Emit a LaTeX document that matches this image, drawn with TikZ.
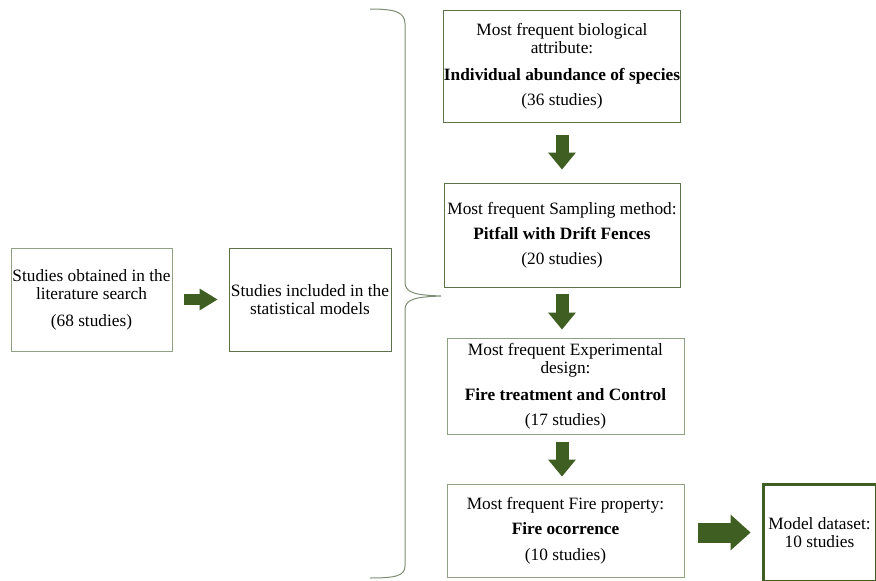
\documentclass[tikz,border=0pt]{standalone}
\usepackage{fontspec}
\setmainfont{Liberation Serif}
\usetikzlibrary{arrows.meta,calc}
\definecolor{boxdark}{HTML}{5E7249}
\definecolor{boxlight}{HTML}{8FA083}
\definecolor{arrowgreen}{HTML}{3F5F22}
\definecolor{bracegray}{HTML}{7E8C74}
\tikzset{
  box/.style={draw=boxdark, line width=1pt, align=center, inner sep=0pt,
    font=\fontsize{17.3}{18.5}\selectfont},
  lbox/.style={box, draw=boxlight},
}
\begin{document}
\begin{tikzpicture}[x=1pt,y=-1pt]
\useasboundingbox (0,0) rectangle (876,581);
\node[lbox, minimum width=161pt, minimum height=103pt] (b1) at (91.5,299.5)
  {Studies obtained in the\\literature search\\[8pt](68 studies)};
\node[box, minimum width=162pt, minimum height=103pt] (b2) at (310,299.5)
  {Studies included in the\\statistical models};
\node[box, minimum width=236pt, minimum height=112pt] (ba) at (562,66)
  {Most frequent biological\\attribute:\\[8pt]\textbf{Individual abundance of species}\\[7pt](36 studies)};
\node[box, minimum width=236pt, minimum height=104pt] (bb) at (562,235)
  {Most frequent Sampling method:\\[6.5pt]\textbf{Pitfall with Drift Fences}\\[7pt](20 studies)};
\node[lbox, minimum width=237pt, minimum height=96pt] (bc) at (565.5,386)
  {Most frequent Experimental\\design:\\[8pt]\textbf{Fire treatment and Control}\\[7pt](17 studies)};
\node[lbox, minimum width=237pt, minimum height=93pt] (bd) at (565.5,530.5)
  {Most frequent Fire property:\\[7pt]\textbf{Fire ocorrence}\\[7pt](10 studies)};
\node[box, draw=arrowgreen, line width=3pt, minimum width=113pt, minimum height=97pt] (be) at (819.5,532.5)
  {Model dataset:\\10 studies};
% block arrows
\draw[arrowgreen, line width=11pt, -{Triangle[length=18pt,width=22pt,line width=0pt]}, shorten <=11pt, shorten >=11pt] (b1.east) -- (b2.west);
\draw[arrowgreen, line width=13pt, -{Triangle[length=17pt,width=28pt,line width=0pt]}, shorten <=12pt, shorten >=13pt] (ba.south) -- (bb.north);
\draw[arrowgreen, line width=13pt, -{Triangle[length=17pt,width=28pt,line width=0pt]}, shorten <=6pt, shorten >=8pt] (bb.south) -- (bb.south |- bc.north);
\draw[arrowgreen, line width=13pt, -{Triangle[length=17pt,width=28pt,line width=0pt]}, shorten <=7pt, shorten >=7pt] (bc.south -| bb.south) -- (bb.south |- bd.north);
\draw[arrowgreen, line width=20pt, -{Triangle[length=20pt,width=36pt,line width=0pt]}, shorten <=13pt, shorten >=11pt] (bd.east |- be.west) -- (be.west);
% brace
\draw[bracegray, line width=1pt] (370,9) .. controls (395,9) and (405,12) .. (405,24)
  -- (405,282) .. controls (405,293) and (415,295) .. (441,296)
  .. controls (415,297) and (405,299) .. (405,310)
  -- (405,566) .. controls (405,576) and (395,578) .. (370,578);
\end{tikzpicture}
\end{document}
